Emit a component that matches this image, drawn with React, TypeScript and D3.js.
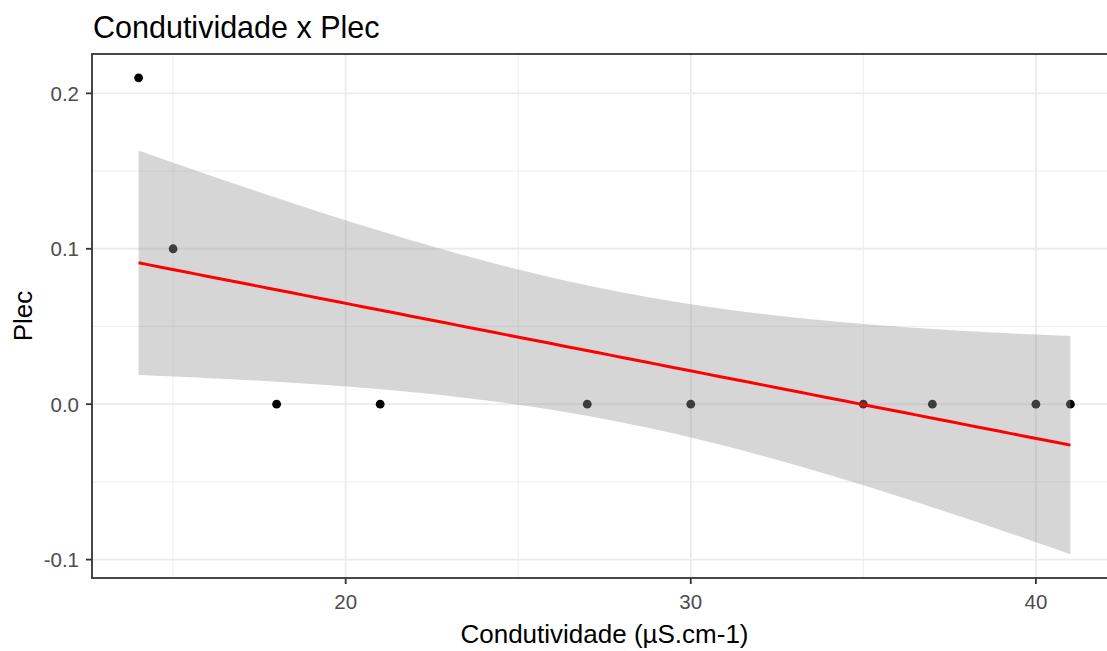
import React from "react";
import * as d3 from "d3";

// Observations: conductivity (µS.cm-1) and Plec
const condutividade: number[] = [14, 15, 18, 21, 27, 30, 35, 37, 40, 41];
const plec: number[] = [0.21, 0.1, 0, 0, 0, 0, 0, 0, 0, 0];

const xTicks: number[] = [20, 30, 40];
const xMinor: number[] = [15, 25, 35];
const yTicks: number[] = [-0.1, 0, 0.1, 0.2];
const yMinor: number[] = [-0.05, 0.05, 0.15];

const title = "Condutividade x Plec";
const xTitle = "Condutividade (µS.cm-1)";
const yTitle = "Plec";

// Student t quantile (0.975, df = n - 2 = 8) for the 95% confidence band
const T_975_DF8 = 2.306004;

const W = 1107;
const H = 651;
const panel = { left: 92, top: 54, bottom: 578, right: 1117 };
const FONT = "'Liberation Sans', Arial, sans-serif";

function linearFit(xs: number[], ys: number[]) {
  const n = xs.length;
  const mx = d3.mean(xs)!;
  const my = d3.mean(ys)!;
  let sxx = 0, sxy = 0;
  xs.forEach((x, i) => {
    sxx += (x - mx) ** 2;
    sxy += (x - mx) * (ys[i] - my);
  });
  const slope = sxy / sxx;
  const intercept = my - slope * mx;
  let sse = 0;
  xs.forEach((x, i) => {
    sse += (ys[i] - (intercept + slope * x)) ** 2;
  });
  const s = Math.sqrt(sse / (n - 2));
  const se = (x: number) => s * Math.sqrt(1 / n + (x - mx) ** 2 / sxx);
  return { slope, intercept, se };
}

export default function App() {
  const fit = linearFit(condutividade, plec);
  const [x0, x1] = d3.extent(condutividade) as [number, number];
  const band = d3.range(80).map((i) => {
    const x = x0 + ((x1 - x0) * i) / 79;
    const y = fit.intercept + fit.slope * x;
    const m = T_975_DF8 * fit.se(x);
    return { x, y, lo: y - m, hi: y + m };
  });

  const yLo = Math.min(d3.min(plec)!, d3.min(band, (d) => d.lo)!);
  const yHi = Math.max(d3.max(plec)!, d3.max(band, (d) => d.hi)!);
  const yPad = (yHi - yLo) * 0.05;
  const xPad = (x1 - x0) * 0.05;

  const xScale = d3.scaleLinear().domain([x0 - xPad, x1 + xPad]).range([panel.left, panel.right]);
  const yScale = d3.scaleLinear().domain([yLo - yPad, yHi + yPad]).range([panel.bottom, panel.top]);

  const area = d3
    .area<{ x: number; lo: number; hi: number }>()
    .x((d) => xScale(d.x))
    .y0((d) => yScale(d.lo))
    .y1((d) => yScale(d.hi));
  const line = d3
    .line<{ x: number; y: number }>()
    .x((d) => xScale(d.x))
    .y((d) => yScale(d.y));

  const grid = "#EBEBEB";
  const midY = (panel.top + panel.bottom) / 2;
  const midX = (panel.left + panel.right) / 2;

  return (
    <svg
      width={W}
      height={H}
      style={{ position: "fixed", left: 0, top: 0, background: "#fff" }}
      fontFamily={FONT}
    >
      <rect x={0} y={0} width={W} height={H} fill="#fff" />
      <defs>
        <clipPath id="panel-clip">
          <rect x={panel.left} y={panel.top} width={panel.right - panel.left} height={panel.bottom - panel.top} />
        </clipPath>
      </defs>

      <g clipPath="url(#panel-clip)">
        {xMinor.map((v) => (
          <line key={"xm" + v} x1={xScale(v)} x2={xScale(v)} y1={panel.top} y2={panel.bottom} stroke={grid} strokeWidth={0.9} />
        ))}
        {yMinor.map((v) => (
          <line key={"ym" + v} x1={panel.left} x2={panel.right} y1={yScale(v)} y2={yScale(v)} stroke={grid} strokeWidth={0.9} />
        ))}
        {xTicks.map((v) => (
          <line key={"xg" + v} x1={xScale(v)} x2={xScale(v)} y1={panel.top} y2={panel.bottom} stroke={grid} strokeWidth={1.8} />
        ))}
        {yTicks.map((v) => (
          <line key={"yg" + v} x1={panel.left} x2={panel.right} y1={yScale(v)} y2={yScale(v)} stroke={grid} strokeWidth={1.8} />
        ))}

        {condutividade.map((x, i) => (
          <circle key={"p" + i} cx={xScale(x)} cy={yScale(plec[i])} r={4.4} fill="#000" />
        ))}

        <path d={area(band) ?? ""} fill="#999999" fillOpacity={0.4} />
        <path d={line(band) ?? ""} fill="none" stroke="#ff0000" strokeWidth={3} />
      </g>

      <rect
        x={panel.left}
        y={panel.top}
        width={panel.right - panel.left}
        height={panel.bottom - panel.top}
        fill="none"
        stroke="#333333"
        strokeWidth={1.8}
      />

      {yTicks.map((v) => (
        <g key={"yt" + v}>
          <line x1={panel.left - 6} x2={panel.left} y1={yScale(v)} y2={yScale(v)} stroke="#333333" strokeWidth={1.8} />
          <text x={panel.left - 13} y={yScale(v)} dy="0.36em" textAnchor="end" fontSize={20.5} fill="#4D4D4D">
            {v === 0 ? "0.0" : String(v)}
          </text>
        </g>
      ))}
      {xTicks.map((v) => (
        <g key={"xt" + v}>
          <line x1={xScale(v)} x2={xScale(v)} y1={panel.bottom} y2={panel.bottom + 6} stroke="#333333" strokeWidth={1.8} />
          <text x={xScale(v)} y={609} textAnchor="middle" fontSize={20.5} fill="#4D4D4D">
            {v}
          </text>
        </g>
      ))}

      <text x={midX} y={643} textAnchor="middle" fontSize={26} fill="#000">
        {xTitle}
      </text>
      <text transform={`translate(32, ${midY}) rotate(-90)`} textAnchor="middle" fontSize={26} fill="#000">
        {yTitle}
      </text>
      <text x={93} y={38} fontSize={30.5} fill="#000">
        {title}
      </text>
    </svg>
  );
}
